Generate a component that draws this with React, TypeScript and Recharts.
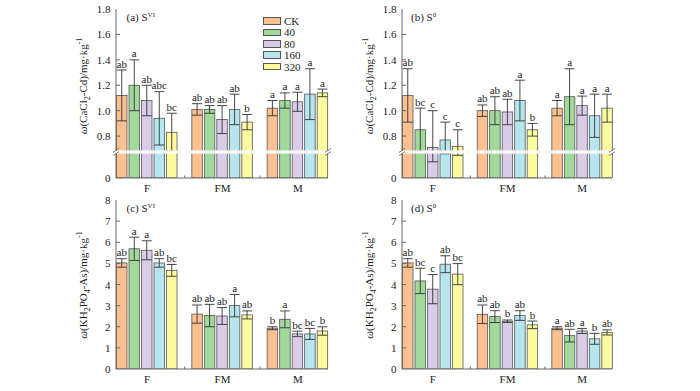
import React from "react";
import { BarChart, Bar, XAxis, YAxis, ErrorBar, ReferenceLine, Legend } from "recharts";

const SERIF = "'Liberation Serif', 'Times New Roman', serif";

const groups = ["F", "FM", "M"];
const treatments = ["CK", "40", "80", "160", "320"];
const fills = ["#FAC090", "#A1D99B", "#D8CCE8", "#B6E5EE", "#FCFA9E"];

// rows: F, FM, M   columns: CK, 40, 80, 160, 320
// (a) CaCl2-Cd, S(VI)
const cdSviMean = [
  [1.12, 1.2, 1.08, 0.94, 0.83],
  [1.01, 1.01, 0.93, 1.01, 0.91],
  [1.02, 1.08, 1.07, 1.13, 1.14],
];
const cdSviSd = [
  [0.2, 0.2, 0.12, 0.21, 0.15],
  [0.045, 0.03, 0.11, 0.12, 0.06],
  [0.06, 0.06, 0.075, 0.2, 0.03],
];
const cdSviSig = [
  ["ab", "a", "ab", "abc", "bc"],
  ["ab", "ab", "ab", "ab", "b"],
  ["a", "a", "a", "a", "a"],
];

// (b) CaCl2-Cd, S(0)
const cdS0Mean = [
  [1.12, 0.85, 0.71, 0.77, 0.72],
  [1.0, 1.0, 0.99, 1.08, 0.85],
  [1.02, 1.11, 1.04, 0.96, 1.02],
];
const cdS0Sd = [
  [0.21, 0.17, 0.29, 0.14, 0.13],
  [0.045, 0.11, 0.1, 0.16, 0.05],
  [0.06, 0.22, 0.075, 0.17, 0.11],
];
const cdS0Sig = [
  ["ab", "bc", "c", "c", "c"],
  ["ab", "ab", "ab", "a", "b"],
  ["a", "a", "a", "a", "a"],
];

// (c) KH2PO4-As, S(VI)
const asSviMean = [
  [5.02, 5.69, 5.62, 5.02, 4.67],
  [2.6, 2.53, 2.51, 3.0, 2.56],
  [1.93, 2.35, 1.66, 1.66, 1.8],
];
const asSviSd = [
  [0.2, 0.55, 0.45, 0.2, 0.28],
  [0.43, 0.53, 0.4, 0.53, 0.19],
  [0.07, 0.4, 0.13, 0.26, 0.2],
];
const asSviSig = [
  ["ab", "a", "a", "ab", "bc"],
  ["ab", "ab", "ab", "a", "ab"],
  ["b", "a", "bc", "bc", "b"],
];

// (d) KH2PO4-As, S(0)
const asS0Mean = [
  [5.02, 4.17, 3.78, 4.96, 4.49],
  [2.59, 2.48, 2.26, 2.53, 2.09],
  [1.93, 1.58, 1.8, 1.43, 1.73],
];
const asS0Sd = [
  [0.2, 0.6, 0.69, 0.4, 0.5],
  [0.44, 0.28, 0.06, 0.23, 0.18],
  [0.07, 0.3, 0.12, 0.26, 0.12],
];
const asS0Sig = [
  ["ab", "bc", "c", "ab", "bc"],
  ["ab", "ab", "b", "ab", "b"],
  ["a", "ab", "a", "b", "ab"],
];

const cdTicks = [0, 0.8, 1.0, 1.2, 1.4, 1.6, 1.8];
const asTicks = [0, 1, 2, 3, 4, 5, 6, 7, 8];

// broken axis: 0..BREAK_AT is squeezed into a short strip at the bottom
const BREAK_AT = 0.675;
const LOW_SPAN = 0.2045;
const squash = (v: number) => (v <= BREAK_AT ? (v * LOW_SPAN) / BREAK_AT : LOW_SPAN + (v - BREAK_AT));
const plain = (v: number) => v;

const AXIS = "#666";

const BreakMark = (props: any) => {
  const { x1, x2, y1 } = props;
  const y = y1;
  return (
    <g>
      <rect x={x1 - 5} y={y - 1.6} width={x2 - x1 + 10} height={3.2} fill="#fff" />
      {[x1, x2].map((x: number) => (
        <g key={x}>
          <line x1={x - 3} y1={y + 0.4} x2={x + 3} y2={y - 3.6} stroke="#555" strokeWidth={0.8} />
          <line x1={x - 3} y1={y + 3.6} x2={x + 3} y2={y - 0.4} stroke="#555" strokeWidth={0.8} />
        </g>
      ))}
    </g>
  );
};

const LegendBox = () => (
  <div style={{ fontFamily: SERIF, fontSize: 11, color: "#222" }}>
    {treatments.map((name, k) => (
      <div key={name} style={{ display: "flex", alignItems: "center", height: 11.4 }}>
        <span
          style={{
            display: "inline-block",
            width: 16,
            height: 5.5,
            background: fills[k],
            border: "1px solid #555",
            marginRight: 3,
          }}
        />
        <span>{name}</span>
      </div>
    ))}
  </div>
);

type PanelProps = {
  left: number;
  top: number;
  height: number;
  marginTop: number;
  marginRight: number;
  xHeight: number;
  mean: number[][];
  sd: number[][];
  sig: string[][];
  broken: boolean;
  ticks: number[];
  title: string;
  sup: string;
  ylab: React.ReactNode;
  labelY: number;
  legend?: boolean;
};

function Panel(p: PanelProps) {
  const t = p.broken ? squash : plain;
  const yMax = t(p.ticks[p.ticks.length - 1]);
  const rows = groups.map((g, i) => {
    const r: any = { g };
    treatments.forEach((_, k) => {
      const v = p.mean[i][k];
      const e = p.sd[i][k];
      r[`v${k}`] = t(v);
      r[`e${k}`] = [t(v) - t(Math.max(0, v - e)), t(v + e) - t(v)];
      r[`h${k}`] = t(v + e);
      r[`s${k}`] = p.sig[i][k];
    });
    return r;
  });
  const tickText = new Map(p.ticks.map((v) => [t(v), p.broken ? (v === 0 ? "0" : v.toFixed(1)) : String(v)]));
  const last = t(p.ticks[p.ticks.length - 1]);

  const YTick = (q: any) => {
    const val = q.payload.value;
    return (
      <g>
        {val !== 0 && val !== last ? (
          <line x1={q.x} y1={q.y} x2={q.x + 4} y2={q.y} stroke={AXIS} strokeWidth={1} />
        ) : null}
        <text x={q.x - 5.5} y={q.y} dy={4} textAnchor="end" fontSize={11} fontFamily={SERIF} fill="#222">
          {tickText.get(val) ?? ""}
        </text>
      </g>
    );
  };

  const XTick = (q: any) => (
    <g>
      {q.index < groups.length - 1 ? (
        <line x1={q.x + 37.5} y1={q.y} x2={q.x + 37.5} y2={q.y - 2.5} stroke={AXIS} />
      ) : null}
      <text x={q.x} y={q.y} dy={14} textAnchor="middle" fontSize={11} fontFamily={SERIF} fill="#222">
        {q.payload.value}
      </text>
    </g>
  );

  const shapeFor = (k: number) => (q: any) => {
    const { x, y, width, height, payload } = q;
    const base = y + height;
    const topPx = base - (payload[`h${k}`] * height) / payload[`v${k}`];
    return (
      <g>
        <rect x={x} y={y} width={width} height={height} fill={fills[k]} stroke="#555" strokeWidth={0.8} />
        <text x={x + width / 2} y={topPx - 2.5} textAnchor="middle" fontSize={11} fontFamily={SERIF} fill="#222">
          {payload[`s${k}`]}
        </text>
      </g>
    );
  };

  return (
    <div style={{ position: "absolute", left: p.left, top: p.top, width: 350, height: p.height }}>
      <BarChart
        width={350}
        height={p.height}
        data={rows}
        barGap={2}
        margin={{ top: p.marginTop, right: p.marginRight, bottom: 0, left: 76 }}
        style={{ fontFamily: SERIF }}
      >
        <XAxis
          dataKey="g"
          height={p.xHeight}
          padding={{ left: -6.5, right: -7.5 }}
          tickSize={0}
          tickMargin={0}
          tickLine={false}
          axisLine={{ stroke: AXIS }}
          tick={XTick}
          interval={0}
        />
        <XAxis xAxisId="top" dataKey="g" orientation="top" height={0} tick={false} tickLine={false} axisLine={{ stroke: AXIS }} />
        <YAxis
          width={40}
          type="number"
          domain={[0, yMax]}
          ticks={p.ticks.map(t)}
          allowDataOverflow
          tickSize={0}
          tickMargin={0}
          tickLine={false}
          axisLine={{ stroke: AXIS }}
          tick={YTick}
          interval={0}
        />
        <YAxis yAxisId="right" orientation="right" width={0} domain={[0, 1]} tick={false} tickLine={false} axisLine={{ stroke: AXIS }} />
        {treatments.map((name, k) => (
          <Bar
            key={name}
            dataKey={`v${k}`}
            name={name}
            fill={fills[k]}
            barSize={10.5}
            isAnimationActive={false}
            shape={shapeFor(k)}
          >
            <ErrorBar dataKey={`e${k}`} width={5} stroke="#333" strokeWidth={0.9} direction="y" />
          </Bar>
        ))}
        {p.broken ? <ReferenceLine y={LOW_SPAN} shape={BreakMark} zIndex={1000} /> : null}
        {p.legend ? (
          <Legend
            layout="vertical"
            align="center"
            verticalAlign="middle"
            wrapperStyle={{ left: 263, top: 15.3, width: 60, height: 60 }}
            content={LegendBox}
          />
        ) : null}
      </BarChart>
      <div
        style={{
          position: "absolute",
          left: p.left === 0 ? 126.5 : 125,
          top: p.marginTop + 1,
          fontFamily: SERIF,
          fontSize: 11,
          lineHeight: "14px",
          color: "#222",
          whiteSpace: "nowrap",
        }}
      >
        {p.title} S<sup style={{ fontSize: 7, verticalAlign: "top", lineHeight: "10px" }}>{p.sup}</sup>
      </div>
      <div
        style={{
          position: "absolute",
          left: 83,
          top: p.labelY,
          transform: "translate(-50%, -50%) rotate(-90deg)",
          fontFamily: SERIF,
          fontSize: 11,
          lineHeight: "14px",
          color: "#222",
          whiteSpace: "nowrap",
        }}
      >
        {p.ylab}
      </div>
    </div>
  );
}

const subStyle: React.CSSProperties = { fontSize: 8, verticalAlign: "sub", lineHeight: 0 };
const supStyle: React.CSSProperties = { fontSize: 8, verticalAlign: "super", lineHeight: 0 };

const cdLabel = (
  <>
    <i>ω</i>(CaCl<sub style={subStyle}>2</sub>-Cd)/mg·kg<sup style={supStyle}>-1</sup>
  </>
);
const asLabel = (
  <>
    <i>ω</i>(KH<sub style={subStyle}>2</sub>PO<sub style={subStyle}>4</sub>-As)/mg·kg<sup style={supStyle}>-1</sup>
  </>
);

export default function App() {
  return (
    <div style={{ position: "absolute", left: 0, top: 0, width: 700, height: 391, background: "#fff", overflow: "hidden" }}>
      <Panel
        left={0}
        top={0}
        height={196}
        marginTop={9}
        marginRight={22}
        xHeight={18}
        mean={cdSviMean}
        sd={cdSviSd}
        sig={cdSviSig}
        broken
        ticks={cdTicks}
        title="(a)"
        sup="VI"
        ylab={cdLabel}
        labelY={86}
        legend
      />
      <Panel
        left={286}
        top={0}
        height={196}
        marginTop={9}
        marginRight={24}
        xHeight={18}
        mean={cdS0Mean}
        sd={cdS0Sd}
        sig={cdS0Sig}
        broken
        ticks={cdTicks}
        title="(b)"
        sup="0"
        ylab={cdLabel}
        labelY={86}
      />
      <Panel
        left={0}
        top={190}
        height={201}
        marginTop={10}
        marginRight={22}
        xHeight={22}
        mean={asSviMean}
        sd={asSviSd}
        sig={asSviSig}
        broken={false}
        ticks={asTicks}
        title="(c)"
        sup="VI"
        ylab={asLabel}
        labelY={95}
      />
      <Panel
        left={286}
        top={190}
        height={201}
        marginTop={10}
        marginRight={24}
        xHeight={22}
        mean={asS0Mean}
        sd={asS0Sd}
        sig={asS0Sig}
        broken={false}
        ticks={asTicks}
        title="(d)"
        sup="0"
        ylab={asLabel}
        labelY={95}
      />
    </div>
  );
}
